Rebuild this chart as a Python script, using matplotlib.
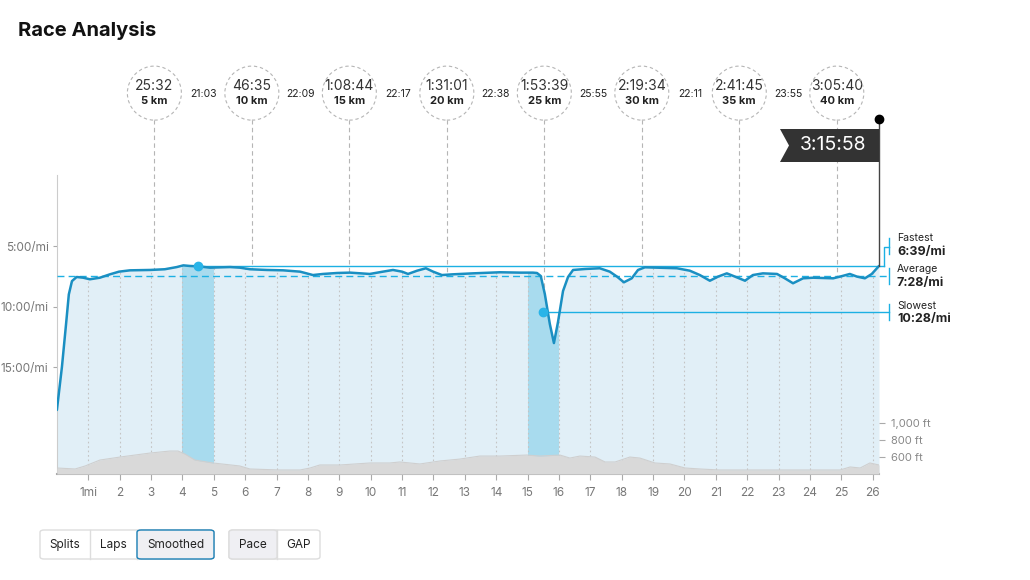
import matplotlib
matplotlib.use("Agg")
import matplotlib.pyplot as plt
import matplotlib.transforms as mtransforms
from matplotlib.patches import Circle, Polygon, FancyBboxPatch
import numpy as np

plt.rcParams['font.family'] = ['Inter', 'DejaVu Sans']

W, H = 1030, 580

# smoothed pace (min/mi) along the course (miles)
pace_mi = [0.0, 0.16, 0.29, 0.38, 0.48, 0.63, 0.84, 1.05, 1.37, 1.69, 1.98, 2.33,
           2.97, 3.44, 3.82, 4.03, 4.24, 4.51, 4.88, 5.52, 5.83, 6.15, 6.69, 7.21,
           7.75, 8.16, 8.48, 8.93, 9.34, 9.97, 10.39, 10.71, 11.00, 11.19, 11.48,
           11.76, 11.99, 12.27, 12.62, 13.26, 14.12, 14.76, 15.17, 15.30, 15.42,
           15.55, 15.71, 15.84, 15.97, 16.13, 16.29, 16.45, 16.83, 17.30, 17.62,
           17.85, 18.07, 18.32, 18.52, 18.74, 19.12, 19.76, 20.17, 20.49, 20.81,
           21.07, 21.35, 21.61, 21.93, 22.18, 22.50, 22.95, 23.20, 23.46, 23.78,
           24.10, 24.74, 24.96, 25.27, 25.50, 25.75, 25.97, 26.2]
pace = [18.55, 15.0, 11.5, 9.0, 7.9, 7.56, 7.62, 7.75, 7.62, 7.34, 7.12, 7.01,
        6.98, 6.92, 6.74, 6.60, 6.65, 6.68, 6.79, 6.74, 6.79, 6.92, 6.98, 7.01,
        7.12, 7.40, 7.31, 7.23, 7.20, 7.31, 7.12, 6.98, 7.12, 7.31, 7.04,
        6.84, 7.12, 7.40, 7.34, 7.26, 7.17, 7.20, 7.20, 7.23, 7.48,
        8.97, 11.45, 13.02, 11.28, 8.72, 7.56, 6.98, 6.90, 6.84, 7.12,
        7.53, 8.00, 7.67, 6.98, 6.76, 6.79, 6.84, 7.04, 7.40, 7.87,
        7.53, 7.26, 7.53, 7.87, 7.40, 7.26, 7.31, 7.67, 8.08, 7.67,
        7.62, 7.67, 7.53, 7.31, 7.53, 7.67, 7.31, 6.65]

# elevation profile (ft)
elev_mi = [0.0, 0.58, 0.90, 1.37, 2.01, 2.97, 3.60, 3.86, 4.08, 4.40, 4.97, 5.83,
           6.15, 7.11, 7.75, 8.07, 8.38, 9.02, 9.98, 10.61, 10.93, 11.57, 12.21,
           12.85, 13.48, 14.12, 14.98, 15.39, 16.03, 16.35, 16.67, 17.15, 17.47,
           17.79, 18.26, 18.58, 19.06, 19.54, 20.02, 20.49, 21.13, 22.41, 24.96,
           25.28, 25.60, 25.91, 26.2]
elev = [465, 453, 489, 560, 596, 644, 668, 668, 632, 560, 525, 489,
        453, 441, 441, 465, 501, 501, 525, 525, 537, 513, 549,
        572, 608, 608, 620, 608, 620, 584, 608, 596, 537,
        537, 596, 584, 525, 513, 465, 453, 441, 441, 441,
        477, 465, 525, 501]

split_km = [5, 10, 15, 20, 25, 30, 35, 40]
split_time = ["25:32", "46:35", "1:08:44", "1:31:01", "1:53:39", "2:19:34", "2:41:45", "3:05:40"]
split_pace = ["21:03", "22:09", "22:17", "22:38", "25:55", "22:11", "23:55"]

fastest, average, slowest = 6.65, 7.467, 10.467
fastest_at, slowest_at = 4.49, 15.5
laps_hl = [(4, 5), (15, 16)]
finish = "3:15:58"

y_bot, y_top = 23.84, -10.37
el_bot, el_top = 393, 5351

fig = plt.figure(figsize=(W / 100, H / 100), dpi=100)
ax = fig.add_axes([56.9 / W, (H - 474) / H, (879 - 56.9) / W, 414 / H])
ax.set_xlim(0, 26.2)
ax.set_ylim(y_bot, y_top)

def px(x, y):
    return x / W, 1 - y / H

# km split markers
blend = mtransforms.blended_transform_factory(ax.transData, ax.transAxes)
km_x = [k * 0.621371 for k in split_km]
for kx, t, k in zip(km_x, split_time, split_km):
    ax.axvline(kx, ymin=0, ymax=0.855, color='#b5b5b5', lw=0.8, ls=(0, (4, 3)), zorder=1)
    tr = fig.dpi_scale_trans + mtransforms.ScaledTranslation(kx, 0.920, blend)
    fig.patches.append(Circle((0, 0), 0.27, transform=tr, fill=False, ec='#b5b5b5',
                              lw=0.8, ls=(0, (3, 2.5))))
    ax.text(kx, 0.937, t, transform=blend, ha='center', va='center', fontsize=10,
            color='#333333', clip_on=False)
    ax.text(kx, 0.901, f"{k} km", transform=blend, ha='center', va='center', fontsize=8,
            fontweight='bold', color='#222222', clip_on=False)
for i, sp in enumerate(split_pace):
    ax.text((km_x[i] + km_x[i + 1]) / 2, 0.918, sp, transform=blend, ha='center',
            va='center', fontsize=7.5, color='#222222', clip_on=False)

# pace area
poly = ax.fill_between(pace_mi, pace, y_bot, color='#e1eff7', lw=0, zorder=2)
clip = poly.get_paths()[0]
for a, b in laps_hl:
    sp = ax.axvspan(a, b, color='#a8dbee', lw=0, zorder=2.5)
    sp.set_clip_path(clip, ax.transData)
for m in range(1, 27):
    ln = ax.axvline(m, color='#c4c4c4', lw=0.8, ls=(0, (1.5, 2.5)), zorder=3)
    ln.set_clip_path(clip, ax.transData)
ax.plot(pace_mi, pace, color='#1a8fc2', lw=1.8, zorder=6, solid_joinstyle='round',
        solid_capstyle='round')

# reference lines
ref = '#1cb0e3'
ax.plot([fastest_at, 26.36], [fastest, fastest], color=ref, lw=1, zorder=5, clip_on=False)
ax.plot([0, 26.51], [average, average], color=ref, lw=1, ls=(0, (5, 3)), zorder=5, clip_on=False)
ax.plot([slowest_at, 26.51], [slowest, slowest], color=ref, lw=1, zorder=5, clip_on=False)
ax.plot([26.36, 26.36, 26.51], [fastest, 5.08, 5.08], color=ref, lw=1, clip_on=False)
for yc in [5.0, average, slowest]:
    ax.plot([26.51, 26.51], [yc - 0.66, yc + 0.66], color=ref, lw=1, clip_on=False)
ax.plot([fastest_at, slowest_at], [fastest, slowest], 'o', color='#29b4e8', ms=6,
        zorder=7, ls='none')
for yl, lab, val in [(4.34, "Fastest", "6:39/mi"), (average - 0.6, "Average", "7:28/mi"),
                     (slowest - 0.55, "Slowest", "10:28/mi")]:
    ax.text(26.77, yl, lab, fontsize=7.5, color='#222222', va='center', clip_on=False)
    ax.text(26.77, yl + 1.15, val, fontsize=9, fontweight='bold', color='#222222',
            va='center', clip_on=False)

# finish flag
ax.plot([26.2, 26.2], [-5.5, fastest], color='#444444', lw=1, clip_on=False, zorder=6)
ax.plot([26.2], [-5.5], 'o', color='black', ms=6, clip_on=False, zorder=7)
fig.patches.append(Polygon([px(780, 129), px(879, 129), px(879, 162), px(780, 162),
                            px(789, 145.5)], closed=True, fc='#333333', ec='none',
                           transform=fig.transFigure))
fig.text(*px(833, 145.5), finish, color='white', fontsize=14, ha='center', va='center')

# axes styling
for s in ['top', 'right']:
    ax.spines[s].set_visible(False)
ax.spines['left'].set_bounds(y_bot, -0.87)
ax.spines['left'].set_color('#cccccc')
ax.spines['bottom'].set_color('#aaaaaa')
ax.spines['bottom'].set_linewidth(1.5)
ax.set_yticks([5, 10, 15])
ax.set_yticklabels(["5:00/mi", "10:00/mi", "15:00/mi"])
ax.set_xticks(range(1, 27))
ax.set_xticklabels(["1mi"] + [str(i) for i in range(2, 27)])
ax.tick_params(axis='y', length=3, color='#aaaaaa', labelcolor='#777777', labelsize=8.5, pad=3)
ax.tick_params(axis='x', length=4, color='#aaaaaa', labelcolor='#777777', labelsize=8.5, pad=5)

# elevation
ax2 = ax.twinx()
ax2.set_ylim(el_bot, el_top)
ax2.fill_between(elev_mi, elev, el_bot, color='#d9d9d9', lw=0, zorder=2)
ax2.plot(elev_mi, elev, color='#cfcfcf', lw=0.8)
ax2.set_yticks([600, 800, 1000])
ax2.set_yticklabels(["600 ft", "800 ft", "1,000 ft"])
ax2.tick_params(axis='y', length=4.5, color='#aaaaaa', labelcolor='#888888', labelsize=8, pad=4)
for s in ax2.spines.values():
    s.set_visible(False)

# title
fig.text(*px(18, 30), "Race Analysis", fontsize=14.5, fontweight='bold', color='#111111',
         va='center', ha='left')

# buttons
def button_group(x0, x1, divs, labels, sel, sel_border):
    fig.patches.append(FancyBboxPatch(px(x0, 559), (x1 - x0) / W, 29 / H,
                                      boxstyle="round,pad=0,rounding_size=0.004",
                                      fc='white', ec='#dddddd', lw=1, transform=fig.transFigure))
    edges = [x0] + divs + [x1]
    a, b = edges[sel], edges[sel + 1]
    fig.patches.append(FancyBboxPatch(px(a, 559), (b - a) / W, 29 / H,
                                      boxstyle="round,pad=0,rounding_size=0.004",
                                      fc='#efeff3', ec=sel_border or '#dddddd', lw=1,
                                      transform=fig.transFigure, zorder=2))
    for d in divs:
        fig.lines.append(plt.Line2D([d / W, d / W], [1 - 559 / H, 1 - 530 / H], color='#dddddd',
                                    lw=1, transform=fig.transFigure))
    for i, lab in enumerate(labels):
        fig.text(*px((edges[i] + edges[i + 1]) / 2, 545), lab, fontsize=8.5, color='#222222',
                 ha='center', va='center', zorder=3)

button_group(40, 214, [90, 137], ["Splits", "Laps", "Smoothed"], 2, '#1a7fb5')
button_group(229, 320, [277], ["Pace", "GAP"], 0, None)

fig.savefig("out.png", dpi=100)
